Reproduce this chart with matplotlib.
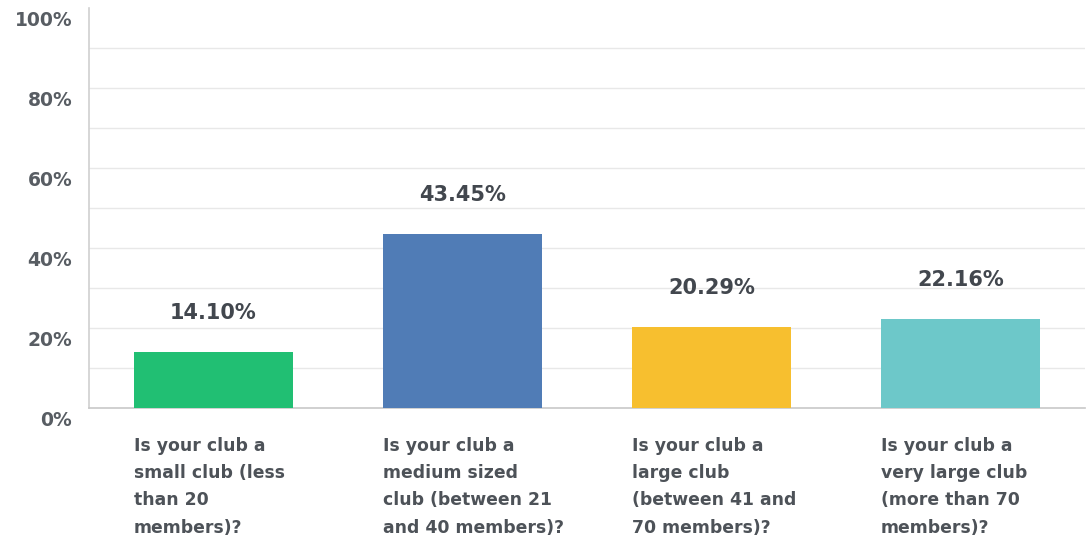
import matplotlib
matplotlib.use("Agg")
import matplotlib.pyplot as plt
import matplotlib.transforms as mtransforms

categories = [
    "Is your club a\nsmall club (less\nthan 20\nmembers)?",
    "Is your club a\nmedium sized\nclub (between 21\nand 40 members)?",
    "Is your club a\nlarge club\n(between 41 and\n70 members)?",
    "Is your club a\nvery large club\n(more than 70\nmembers)?",
]
values = [14.10, 43.45, 20.29, 22.16]
colors = ["#21bf73", "#507cb6", "#f7bf2f", "#6dc8c9"]
y_ticks = [0, 20, 40, 60, 80, 100]
y_tick_labels = ["0%", "20%", "40%", "60%", "80%", "100%"]

plt.rcParams["font.family"] = ["DejaVu Sans"]

W, H = 1086, 543
fig = plt.figure(figsize=(W / 100, H / 100), dpi=100)
ax = fig.add_axes([89 / W, (H - 408) / H, (1085 - 89) / W, 400 / H])

x = range(len(values))
ax.bar(x, values, width=0.64, color=colors, zorder=3)

ax.set_xlim(-0.5, len(values) - 0.5)
ax.set_ylim(0, 100)

# light horizontal gridlines every 10%
for g in range(10, 100, 10):
    ax.axhline(g, color="#e8e8e8", linewidth=1, zorder=1)

for side in ["top", "right"]:
    ax.spines[side].set_visible(False)
ax.spines["left"].set_color("#d0d0d0")
ax.spines["bottom"].set_color("#c8c8c8")
ax.spines["left"].set_linewidth(1.2)
ax.spines["bottom"].set_linewidth(1.2)

ax.set_xticks([])
ax.set_yticks(y_ticks)
ax.set_yticklabels(y_tick_labels, fontsize=13.5, fontweight="bold", color="#585d63")
ax.tick_params(axis="y", length=0, pad=12)
offset = mtransforms.ScaledTranslation(0, -10 / 100, fig.dpi_scale_trans)
for lbl in ax.get_yticklabels():
    lbl.set_transform(lbl.get_transform() + offset)

# value labels above bars
for i, v in enumerate(values):
    ax.annotate(f"{v:.2f}%", xy=(i, v), xytext=(0, 39), textcoords="offset pixels",
                ha="center", va="center", fontsize=15, fontweight="bold",
                color="#42474e")

# category labels, left-aligned with each bar
trans = mtransforms.blended_transform_factory(ax.transData, ax.transAxes)
for i, c in enumerate(categories):
    t = ax.text(i - 0.32, 0, c, transform=trans, ha="left", va="top",
                fontsize=12.4, fontweight="bold", color="#4d5258", linespacing=1.66)
    t.set_transform(trans + mtransforms.ScaledTranslation(0, -29 / 100, fig.dpi_scale_trans))

fig.savefig("out.png", dpi=100, facecolor="white")
